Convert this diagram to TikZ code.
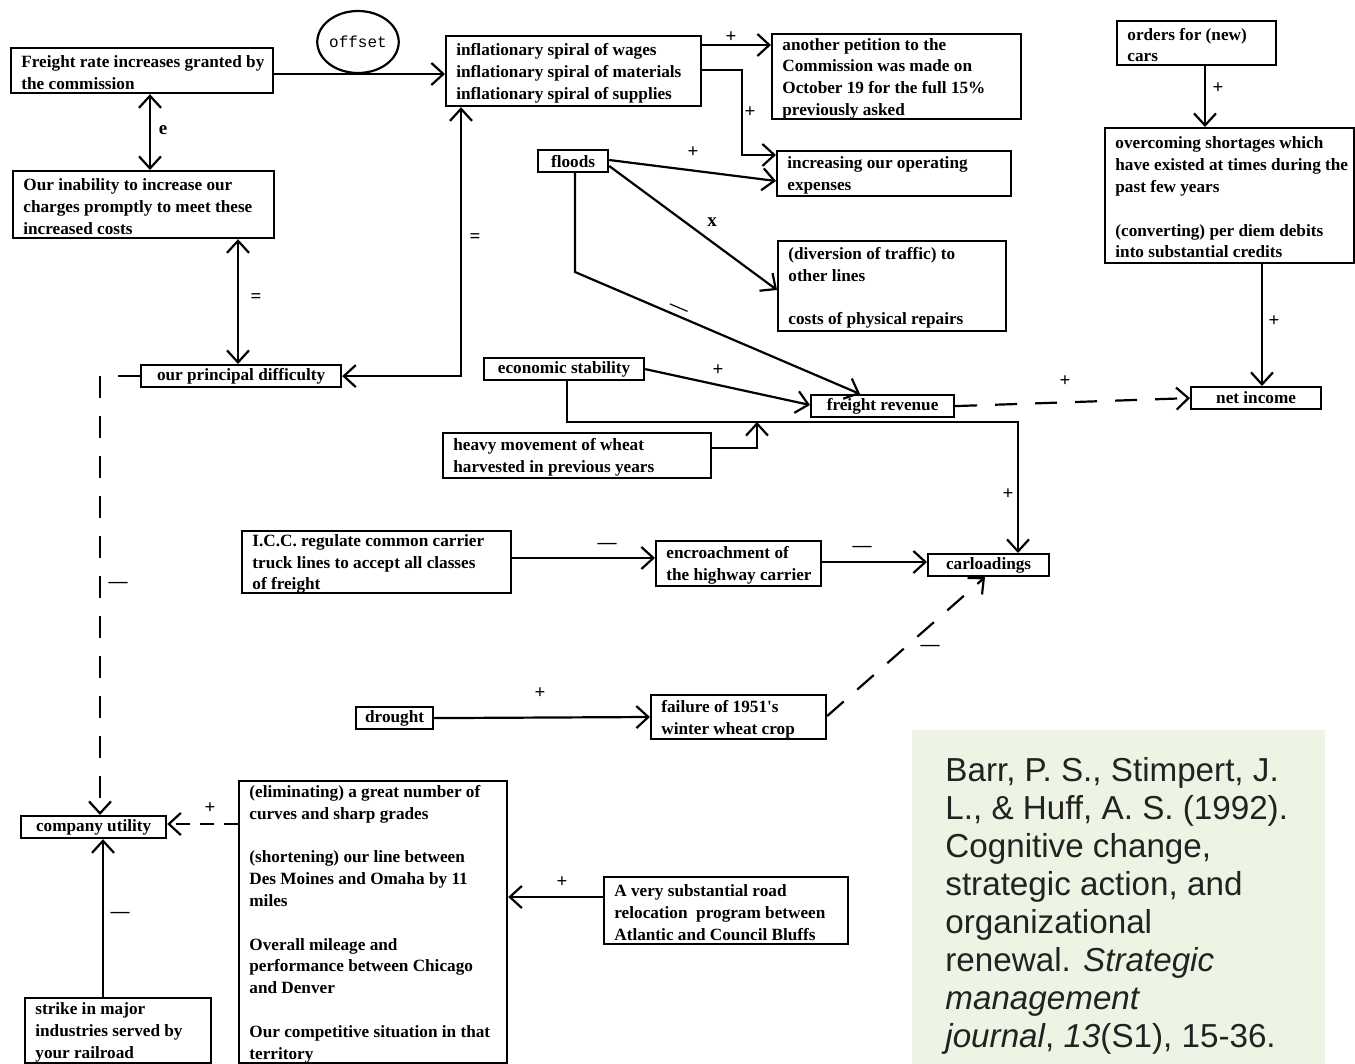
\documentclass[tikz,border=0pt]{standalone}
\usepackage{fontspec}
\setmainfont{Liberation Serif}
\newfontfamily\dgfont{Liberation Serif}
\newfontfamily\citefont{Liberation Sans}
\newfontfamily\offfont{Liberation Mono}
\usetikzlibrary{arrows.meta,shapes.geometric,calc}
\definecolor{citebg}{RGB}{237,244,228}
\definecolor{citetx}{RGB}{34,34,34}
\newcommand\dgtxt{\dgfont\bfseries\fontsize{8.6}{10.9}\selectfont}
\tikzset{
 box/.style={draw, line width=1.1pt, rectangle, anchor=north west, inner sep=0pt, font=\dgtxt},
 txt/.style={anchor=west, align=left, inner sep=0pt, font=\dgtxt},
 lnk/.style={line width=1.1pt},
 arr/.style={lnk, -{Straight Barb[length=6pt,width=11pt]}},
 darr/.style={lnk, {Straight Barb[length=6pt,width=11pt]}-{Straight Barb[length=6pt,width=11pt]}},
 dsh/.style={dash pattern=on 11pt off 9pt},
 lab/.style={font=\dgtxt\fontsize{9.5}{11}\selectfont, inner sep=0pt},
}
\newcommand\bx[5]{%
 \node[box, minimum width=#3, minimum height=#4] (#1) at (#2) {};
 \node[txt] (#1t) at ([xshift=5.5pt,yshift=-1pt]#1.west) {#5};}
\begin{document}
\begin{tikzpicture}[x=0.5pt,y=-0.5pt]
\useasboundingbox (0,0) rectangle (1355,1064);
% citation
\fill[citebg] (912,730) rectangle (1325,1064);
\node[anchor=north west, align=left, inner sep=0pt, text=citetx, font=\citefont\fontsize{16.6}{19}\selectfont] (cite) at (945,757)
 {Barr, P. S., Stimpert, J.\\ L., \& Huff, A. S. (1992).\\ Cognitive change,\\ strategic action, and\\ organizational\\ renewal. \textit{Strategic}\\ \textit{management}\\ \textit{journal}, \textit{13}(S1), 15-36.};

% boxes
\bx{frt}{10,47}{131pt}{22.5pt}{Freight rate increases granted by\\the commission}
\node[draw, ellipse, line width=1.1pt, minimum width=40.5pt, minimum height=31pt, inner sep=0pt, font=\offfont\fontsize{8}{9}\selectfont] (off) at (358,42) {offset};
\bx{infl}{445,35}{127.5pt}{35pt}{inflationary spiral of wages\\inflationary spiral of materials\\inflationary spiral of supplies}
\bx{pet}{771,33}{124.5pt}{42.5pt}{another petition to the\\Commission was made on\\October 19 for the full 15\%\\previously asked}
\bx{oper}{776,150}{117pt}{22.5pt}{increasing our operating\\expenses}
\node[box, minimum width=35pt, minimum height=11pt] (flo) at (537,149) {floods};
\bx{div}{777,240}{114pt}{45pt}{(diversion of traffic) to\\other lines\\\mbox{}\\costs of physical repairs}
\bx{ord}{1116,20}{79.5pt}{22pt}{orders for (new)\\cars}
\bx{over}{1104,127}{124.5pt}{67.5pt}{overcoming shortages which\\have existed at times during the\\past few years\\\mbox{}\\(converting) per diem debits\\into substantial credits}
\bx{inab}{12,170}{130.5pt}{33.5pt}{Our inability to increase our\\charges promptly to meet these\\increased costs}
\node[box, minimum width=100pt, minimum height=11pt] (prin) at (140,364) {our principal difficulty};
\node[box, minimum width=80pt, minimum height=11pt] (econ) at (483,357) {economic stability};
\node[box, minimum width=71.5pt, minimum height=11pt] (frev) at (810,394) {freight revenue};
\node[box, minimum width=65pt, minimum height=11pt] (neti) at (1190,386) {net income};
\bx{heavy}{442,432}{134pt}{22.5pt}{heavy movement of wheat\\harvested in previous years}
\bx{icc}{241,530}{134.5pt}{31pt}{I.C.C. regulate common carrier\\truck lines to accept all classes\\of freight}
\bx{encr}{655,540}{82.5pt}{22.5pt}{encroachment of\\the highway carrier}
\node[box, minimum width=60.5pt, minimum height=11pt] (carl) at (927,553) {carloadings};
\node[box, minimum width=38.5pt, minimum height=11pt] (drou) at (355,706) {drought};
\bx{fail}{650,694}{87.5pt}{22pt}{failure of 1951's\\winter wheat crop}
\node[box, minimum width=72.5pt, minimum height=11pt] (cu) at (20,815) {company utility};
\bx{big}{238,780}{134pt}{141pt}{(eliminating) a great number of\\curves and sharp grades\\\mbox{}\\(shortening) our line between\\Des Moines and Omaha by 11\\miles\\\mbox{}\\Overall mileage and\\performance between Chicago\\and Denver\\\mbox{}\\Our competitive situation in that\\territory}
\bx{road}{603,876}{122pt}{33.5pt}{A very substantial road\\relocation\ \ program between\\Atlantic and Council Bluffs}
\bx{strk}{24,997}{93pt}{32.5pt}{strike in major\\industries served by\\your railroad}

% connectors
\coordinate (jn) at (757,422);
\draw[arr] (frt.east |- 0,74) -- (infl.west |- 0,74);
\draw[darr] (frt.south -| 150,0) -- (inab.north -| 150,0);
\draw[darr] (inab.south -| 238,0) -- (prin.north -| 238,0);
\draw[darr] (prin.east) -| (infl.south -| 461,0);
\draw[arr] (infl.east |- 0,45) -- (pet.west |- 0,45);
\draw[arr] (infl.east |- 0,70) -| (742,155) -- (oper.west |- 0,155);
\draw[arr] (flo.east |- 0,160) -- (oper.west |- 0,181);
\draw[arr] (flo.east |- 0,166) -- (div.west |- 0,290);
\draw[arr] (flo.south -| 575,0) -- (575,272) -- (frev.north -| 860,0);
\draw[arr] (econ.east) -- (frev.west |- 0,405);
\draw[arr] (econ.south -| 567,0) |- (1018,422) -- (carl.north -| 1018,0);
\draw[arr] (heavy.east |- 0,448) -| (jn);
\draw[arr, dsh] (frev.east) -- (neti.west);
\draw[arr] (ord.south -| 1205,0) -- (over.north -| 1205,0);
\draw[arr] (over.south -| 1262,0) -- (neti.north -| 1262,0);
\draw[arr] (icc.east |- 0,558) -- (encr.west |- 0,558);
\draw[arr] (encr.east |- 0,562) -- (carl.west |- 0,562);
\draw[arr] (drou.east) -- (fail.west |- 0,717);
\draw[arr, dsh] (fail.east |- 0,716) -- (carl.south -| 985,0);
\draw[arr, dsh] (prin.west) -| (cu.north -| 100,0);
\draw[arr] (strk.north -| 103,0) -- (cu.south -| 103,0);
\draw[arr, dash pattern=on 7pt off 5pt] (big.west |- 0,824) -- (cu.east |- 0,824);
\draw[arr] (road.west |- 0,897) -- (big.east |- 0,897);

% labels
\node[lab] (l1) at (163,130) {e};
\node[lab] (l2) at (256,298) {=};
\node[lab] (l3) at (475,238) {=};
\node[lab] (l4) at (731,37) {+};
\node[lab] (l5) at (750,112) {+};
\node[lab] (l6) at (693,152) {+};
\node[lab] (l7) at (712,222) {x};
\node[lab, rotate=-23] (l8) at (678,310) {—};
\node[lab] (l9) at (718,370) {+};
\node[lab] (l10) at (1065,381) {+};
\node[lab] (l11) at (1008,494) {+};
\node[lab] (l12) at (1218,88) {+};
\node[lab] (l13) at (1274,321) {+};
\node[lab] (l14) at (607,546) {—};
\node[lab] (l15) at (862,549) {—};
\node[lab] (l16) at (930,648) {—};
\node[lab] (l17) at (540,693) {+};
\node[lab] (l18) at (118,585) {—};
\node[lab] (l19) at (120,915) {—};
\node[lab] (l20) at (210,808) {+};
\node[lab] (l21) at (562,882) {+};
\end{tikzpicture}
\end{document}
